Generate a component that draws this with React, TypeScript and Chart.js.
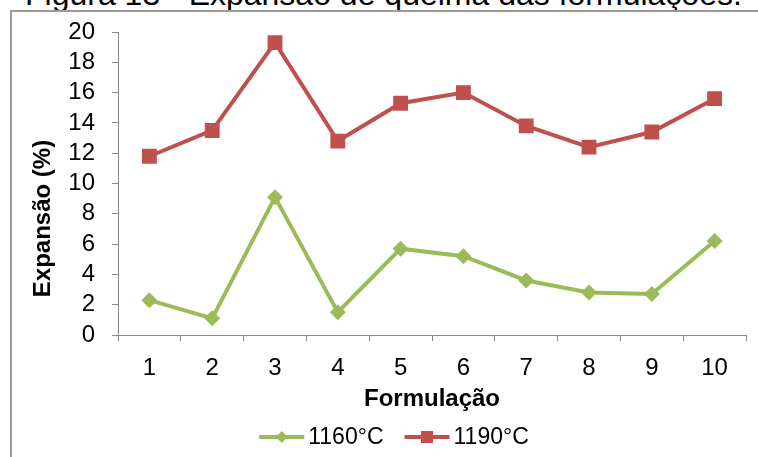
import React, { useEffect, useRef } from "react";
import { Chart, registerables } from "chart.js";

Chart.register(...registerables);

// ---- data ----
const categories = ["1", "2", "3", "4", "5", "6", "7", "8", "9", "10"];
const series1160 = [2.3, 1.1, 9.1, 1.5, 5.7, 5.2, 3.6, 2.8, 2.7, 6.2];
const series1190 = [11.8, 13.5, 19.3, 12.8, 15.3, 16.0, 13.8, 12.4, 13.4, 15.6];
const seriesLabels = ["1160°C", "1190°C"];
const yMin = 0;
const yMax = 20;
const yStep = 2;
const titleText = "Figura 13 - Expansão de queima das formulações.";
const xTitle = "Formulação";
const yTitle = "Expansão (%)";

// ---- styles ----
const FONT = "'Liberation Sans', Arial, sans-serif";
const GREEN = "#9BBB59";
const RED = "#C0504D";
const AXIS = "#898989";

const overlayPlugin = {
  id: "overlay",
  afterDraw(chart: any) {
    const ctx = chart.ctx as CanvasRenderingContext2D;
    const area = chart.chartArea;
    // Y axis title
    ctx.save();
    ctx.translate(50, 218.5);
    ctx.rotate(-Math.PI / 2);
    ctx.font = `bold 24px ${FONT}`;
    ctx.fillStyle = "#000";
    ctx.textAlign = "center";
    ctx.textBaseline = "alphabetic";
    ctx.fillText(yTitle, 0, 0);
    ctx.restore();

    // Legend (line + marker + text)
    ctx.save();
    ctx.font = `23px ${FONT}`;
    ctx.textBaseline = "middle";
    ctx.textAlign = "left";
    const ly = 437;
    const lineLen = 45;
    const gapText = 4;
    const gapItems = 21;
    const ds = chart.data.datasets;
    const widths = ds.map((d: any) => lineLen + gapText + ctx.measureText(d.label).width);
    const total = widths.reduce((a: number, b: number) => a + b, 0) + gapItems * (ds.length - 1);
    const center = (area.left + area.right) / 2 - 38;
    let x = center - total / 2;
    ds.forEach((d: any, i: number) => {
      ctx.strokeStyle = d.borderColor;
      ctx.lineWidth = 4;
      ctx.beginPath();
      ctx.moveTo(x, ly);
      ctx.lineTo(x + lineLen, ly);
      ctx.stroke();
      const cx = x + lineLen / 2;
      ctx.fillStyle = d.borderColor;
      if (d.pointStyle === "rectRot") {
        const r = 6;
        ctx.beginPath();
        ctx.moveTo(cx, ly - r);
        ctx.lineTo(cx + r, ly);
        ctx.lineTo(cx, ly + r);
        ctx.lineTo(cx - r, ly);
        ctx.closePath();
        ctx.fill();
      } else {
        const s = 6;
        ctx.fillRect(cx - s, ly - s, 2 * s, 2 * s);
      }
      ctx.fillStyle = "#000";
      ctx.fillText(d.label, x + lineLen + gapText, ly + 1);
      x += widths[i] + gapItems;
    });
    ctx.restore();
  },
};

function ChartCanvas() {
  const ref = useRef<HTMLCanvasElement | null>(null);
  useEffect(() => {
    if (!ref.current) return;
    const chart = new Chart(ref.current, {
      type: "line",
      data: {
        labels: categories,
        datasets: [
          {
            label: seriesLabels[0],
            data: series1160,
            borderColor: GREEN,
            backgroundColor: GREEN,
            borderWidth: 4,
            pointStyle: "rectRot",
            pointRadius: 8,
            pointBorderWidth: 0,
            pointBackgroundColor: GREEN,
            tension: 0,
          },
          {
            label: seriesLabels[1],
            data: series1190,
            borderColor: RED,
            backgroundColor: RED,
            borderWidth: 4,
            pointStyle: "rect",
            pointRadius: 10.5,
            pointBorderWidth: 0,
            pointBackgroundColor: RED,
            tension: 0,
          },
        ],
      },
      options: {
        animation: false,
        responsive: false,
        devicePixelRatio: 1,
        layout: { padding: { left: 30, top: 32, right: 12, bottom: 0 } },
        plugins: {
          legend: { display: false },
          tooltip: { enabled: false },
          title: { display: false },
        },
        scales: {
          x: {
            type: "category",
            offset: true,
            grid: {
              offset: true,
              drawOnChartArea: false,
              drawTicks: true,
              tickLength: 6,
              color: AXIS,
            },
            border: { color: AXIS, width: 1 },
            ticks: {
              color: "#000",
              font: { family: FONT, size: 24 },
              padding: 13,
              maxRotation: 0,
              autoSkip: false,
            },
            title: {
              display: true,
              text: xTitle,
              color: "#000",
              font: { family: FONT, size: 24, weight: "bold" },
              padding: { top: 0, bottom: 43 },
            },
            afterFit(scale: any) {
              scale.height = 122;
            },
          },
          y: {
            min: yMin,
            max: yMax,
            grid: {
              drawOnChartArea: false,
              drawTicks: true,
              tickLength: 6,
              color: AXIS,
            },
            border: { color: AXIS, width: 1 },
            ticks: {
              stepSize: yStep,
              autoSkip: false,
              color: "#000",
              font: { family: FONT, size: 24 },
              padding: 17,
            },
            afterFit(scale: any) {
              scale.width = 88;
            },
          },
        },
      },
      plugins: [overlayPlugin],
    });
    return () => chart.destroy();
  }, []);
  return <canvas ref={ref} width={758} height={457} style={{ display: "block", width: 758, height: 457 }} />;
}

export default function App() {
  return (
    <div
      style={{
        position: "fixed",
        left: 0,
        top: 0,
        width: 758,
        height: 457,
        overflow: "hidden",
        background: "#fff",
      }}
    >
      <div
        style={{
          position: "absolute",
          left: 25,
          top: -22,
          fontFamily: FONT,
          fontSize: 32,
          lineHeight: "32px",
          whiteSpace: "nowrap",
          color: "#000",
        }}
      >
        {titleText}
      </div>
      <div
        style={{
          position: "absolute",
          left: 10,
          top: 10,
          width: 1000,
          height: 1000,
          border: "2px solid #9a9a9a",
        }}
      />
      <div style={{ position: "absolute", left: 0, top: 0 }}>
        <ChartCanvas />
      </div>
    </div>
  );
}
